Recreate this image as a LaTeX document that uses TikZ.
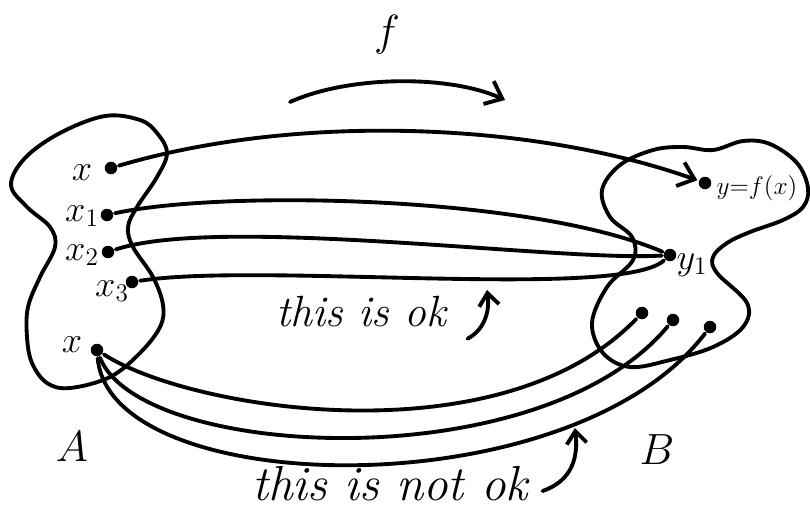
\documentclass[tikz,border=0pt]{standalone}
\usepackage{amsmath,amssymb}
\usepackage{tikz}
\usetikzlibrary{arrows.meta}
\usetikzlibrary{positioning}

\begin{document}
\begin{tikzpicture}[
  x=0.02cm,y=-0.02cm,
  line width=2.2pt,line cap=round,line join=round,
  dot/.style={circle,fill,inner sep=0pt,minimum size=0.25cm},
  elem/.style={font=\huge,inner sep=1pt},
  barb/.style={-{Straight Barb[length=3mm,width=5mm]}},
  hook/.style={-{Straight Barb[length=2.5mm,width=4mm]}},
  note/.style={font=\Huge\itshape},
  bignote/.style={font=\fontsize{28}{34}\selectfont\itshape},
  setname/.style={font=\fontsize{40}{44}\selectfont}
]
\useasboundingbox (0,0) rectangle (810,512);
% Set A
\draw plot[smooth cycle,tension=0.6] coordinates {
  (105,116) (60,133) (25,158) (11,185) (27,207) (50,227) (55,247)
  (40,277) (28,307) (27,337) (32,363) (47,383) (70,388) (110,377)
  (140,353) (160,327) (163,305) (153,277) (133,247) (128,227)
  (137,207) (157,177) (167,153) (157,133) (140,120)};
% Set B
\draw plot[smooth cycle,tension=0.6] coordinates {
  (653,150) (683,147) (713,150) (743,141) (770,144) (797,163)
  (808,188) (803,207) (783,220) (750,232) (727,243) (713,257)
  (717,273) (747,303) (743,327) (713,347) (670,360) (630,367)
  (603,353) (592,323) (607,287) (633,260) (632,237) (610,217)
  (602,190) (620,165)};
% Points of A
\node[dot] (xa) at (111,168) {};
\node[dot] (x1) at (107,215) {};
\node[dot] (x2) at (108,252) {};
\node[dot] (x3) at (132,282) {};
\node[dot] (xb) at (97,350) {};
\node[elem] (lxa) at (82,173) {$x$};
\node[elem] (lx1) at (82,216) {$x_1$};
\node[elem] (lx2) at (82,255) {$x_2$};
\node[elem] (lx3) at (112,291) {$x_3$};
\node[elem] (lxb) at (72,345) {$x$};
% Points of B
\node[dot] (fx) at (705,183) {};
\node[dot] (y1) at (670,255) {};
\node[dot] (d1) at (642,313) {};
\node[dot] (d2) at (673,320) {};
\node[dot] (d3) at (710,327) {};
\node[font=\Large,anchor=west,inner sep=1pt] (lfx) at (713,188) {$y{=}f(x)$};
\node[elem] (ly1) at (692,265) {$y_1$};
% Set names
\node[setname] (A) at (72,447) {$A$};
\node[setname] (B) at (657,450) {$B$};
% The map
\node[font=\Huge] (f) at (387,35) {$f$};
\coordinate (fFrom) at (290,102);
\coordinate (fTo) at (505,100);
\draw[barb] (fFrom) .. controls (350,75) and (450,75) .. (fTo);
% Arrows between the sets
\draw[barb] (xa) .. controls (300,112) and (537,123) .. (fx);
\draw (x1) .. controls (220,190) and (530,195) .. (y1);
\draw (x2) .. controls (220,215) and (560,262) .. (y1);
\draw (x3) .. controls (260,262) and (620,300) .. (y1);
\draw (xb) .. controls (190,410) and (500,460) .. (d1);
\draw (xb) .. controls (140,460) and (540,480) .. (d2);
\draw (xb) .. controls (110,500) and (570,510) .. (d3);
% Notes
\node[note] (ok) at (361,312) {this is ok};
\coordinate (okTip) at (487,290);
\draw[hook] ([xshift=8,yshift=-2]ok.south east) .. controls (484,330) and (490,312) .. (okTip);
\node[bignote] (notok) at (390,484) {this is not ok};
\coordinate (notokTip) at (575,428);
\draw[hook] ([xshift=4,yshift=-4]notok.east) .. controls (574,480) and (578,455) .. (notokTip);
\end{tikzpicture}
\end{document}
